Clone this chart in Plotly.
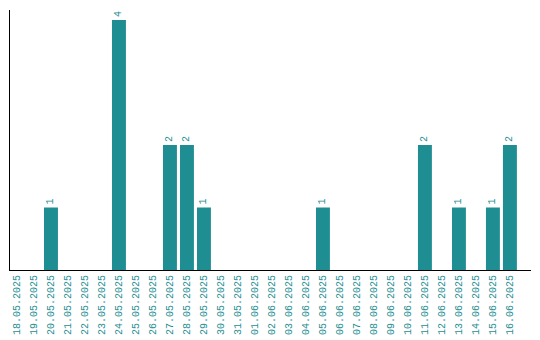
import plotly.graph_objects as go

dates = ["18.05.2025", "19.05.2025", "20.05.2025", "21.05.2025", "22.05.2025",
         "23.05.2025", "24.05.2025", "25.05.2025", "26.05.2025", "27.05.2025",
         "28.05.2025", "29.05.2025", "30.05.2025", "31.05.2025", "01.06.2025",
         "02.06.2025", "03.06.2025", "04.06.2025", "05.06.2025", "06.06.2025",
         "07.06.2025", "08.06.2025", "09.06.2025", "10.06.2025", "11.06.2025",
         "12.06.2025", "13.06.2025", "14.06.2025", "15.06.2025", "16.06.2025"]
counts = [0, 0, 1, 0, 0, 0, 4, 0, 0, 2, 2, 1, 0, 0, 0,
          0, 0, 0, 1, 0, 0, 0, 0, 0, 2, 0, 1, 0, 1, 2]

teal = "#1f8e92"
font_family = "Liberation Mono"
labels = [str(v) if v > 0 else "" for v in counts]

fig = go.Figure(go.Bar(
    x=dates, y=counts, marker_color=teal, marker_line_width=0,
    text=labels, textposition="outside", textangle=-90,
    textfont=dict(family=font_family, size=10, color=teal),
    cliponaxis=False, hoverinfo="skip",
))

# the page body adds an 8px offset, so the figure is 8px smaller
fig.update_layout(
    width=532, height=332,
    margin=dict(l=2, r=9, t=2, b=70),
    paper_bgcolor="white", plot_bgcolor="white",
    bargap=0.18, showlegend=False,
    font=dict(family=font_family, size=10, color=teal),
)
fig.update_xaxes(
    type="category", range=[-0.41, 30.24], tickangle=-90, automargin=False,
    showline=True, linecolor="black", linewidth=1, showgrid=False,
    ticks="", tickfont=dict(family=font_family, size=10, color=teal),
)
fig.update_yaxes(
    range=[0, 4.16], showline=True, linecolor="black", linewidth=1,
    showgrid=False, showticklabels=False, ticks="", zeroline=False,
    automargin=False,
)

fig.write_html("out.html")
